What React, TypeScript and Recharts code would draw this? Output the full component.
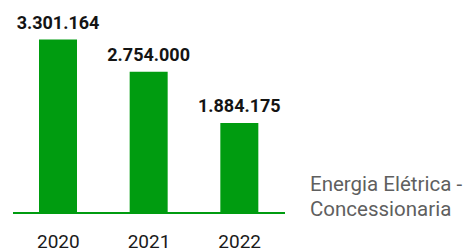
import { BarChart, Bar, XAxis, YAxis, LabelList } from "recharts";

const YEARS = ["2020", "2021", "2022"];
const CONSUMO = [3301164, 2754000, 1884175];
const SERIES_NAME = "Energia Elétrica - Concessionaria";

const GREEN = "#009c10";
const FONT = "Roboto, 'Noto Sans', sans-serif";

const formatNumber = (v: any) =>
  Number(v).toString().replace(/\B(?=(\d{3})+(?!\d))/g, ".");

const chartData = YEARS.map((year, i) => ({ year, value: CONSUMO[i] }));

export default function App() {
  return (
    <div style={{ position: "relative", width: 473, height: 252 }}>
      <style>{"body{margin:0}"}</style>
      <BarChart
        width={473}
        height={252}
        data={chartData}
        margin={{ top: 22, right: 188, bottom: 0, left: 13 }}
      >
        <XAxis
          dataKey="year"
          height={39}
          axisLine={{ stroke: GREEN, strokeWidth: 2 }}
          tickLine={false}
          tickSize={0}
          tickMargin={22}
          tick={{ fontFamily: FONT, fontSize: 19, fill: "#1a1a1a" }}
        />
        <YAxis hide domain={[356000, 3600000]} />
        <Bar dataKey="value" name={SERIES_NAME} fill={GREEN} barSize={38} isAnimationActive={false}>
          <LabelList
            dataKey="value"
            position="top"
            offset={11}
            formatter={formatNumber}
            style={{ fontFamily: FONT, fontSize: 18, fontWeight: 700, fill: "#141414" }}
          />
        </Bar>
      </BarChart>
      {/* legend text sits to the right of the plot */}
      <div
        style={{
          position: "absolute",
          left: 310,
          top: 172,
          width: 163,
          fontFamily: FONT,
          fontSize: 20.5,
          lineHeight: "25px",
          color: "#5f5f5f",
        }}
      >
        {SERIES_NAME}
      </div>
    </div>
  );
}
